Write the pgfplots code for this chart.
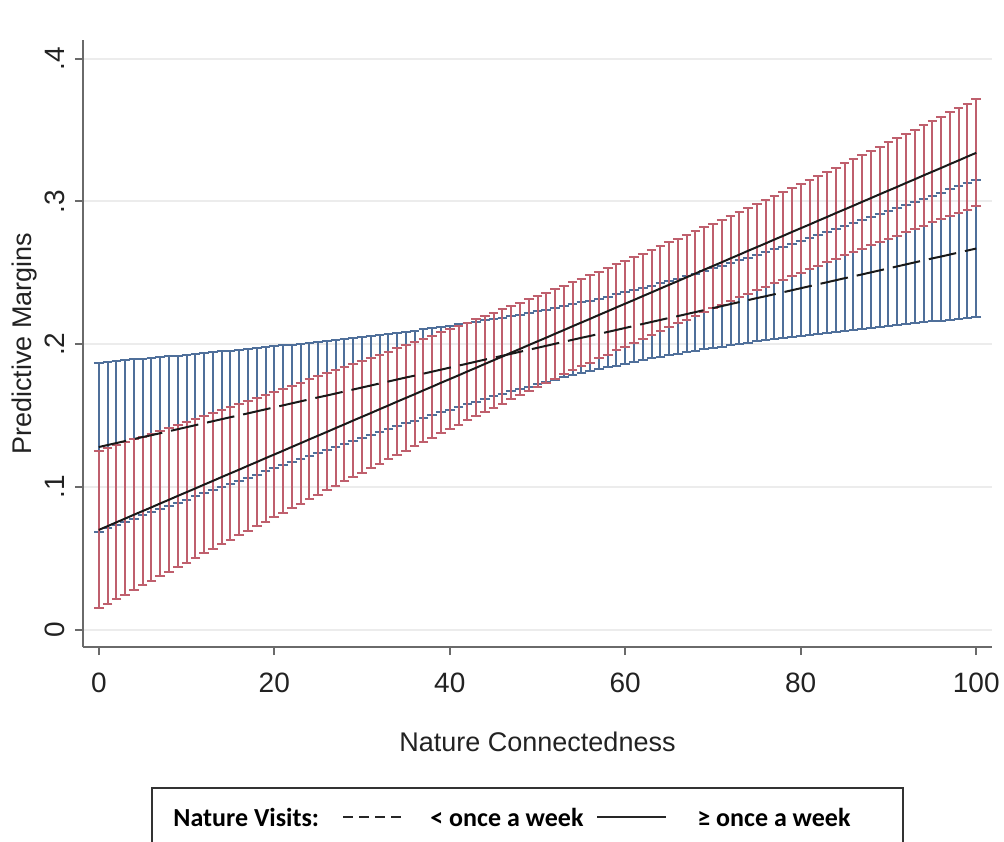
\documentclass[border=0pt]{standalone}
\usepackage{pgfplots}
\usepackage{pgfplotstable}
\pgfplotsset{compat=1.18}
\usepackage{fontspec}
\setmainfont{Liberation Sans}
\newfontfamily\legfont{Carlito}
\definecolor{cBlue}{HTML}{4F6F9A}
\definecolor{cRed}{HTML}{BF5F6D}
\definecolor{cAxis}{HTML}{6A6A6A}
\definecolor{cGrid}{HTML}{ECECEC}
\definecolor{cText}{HTML}{222222}

% < once a week: margin and half-width of the 95% CI
\pgfplotstableread{
x y e
0 .1280 .0592
1 .1294 .0583
2 .1308 .0575
3 .1322 .0566
4 .1336 .0558
5 .1350 .0549
6 .1363 .0541
7 .1377 .0533
8 .1391 .0524
9 .1405 .0516
10 .1419 .0507
11 .1433 .0499
12 .1447 .0491
13 .1461 .0483
14 .1475 .0475
15 .1489 .0467
16 .1502 .0459
17 .1516 .0451
18 .1530 .0443
19 .1544 .0435
20 .1558 .0427
21 .1572 .0420
22 .1586 .0412
23 .1600 .0404
24 .1614 .0397
25 .1628 .0390
26 .1641 .0382
27 .1655 .0375
28 .1669 .0368
29 .1683 .0361
30 .1697 .0354
31 .1711 .0348
32 .1725 .0341
33 .1739 .0335
34 .1753 .0328
35 .1767 .0322
36 .1780 .0316
37 .1794 .0310
38 .1808 .0305
39 .1822 .0299
40 .1836 .0294
41 .1850 .0289
42 .1864 .0284
43 .1878 .0280
44 .1892 .0276
45 .1906 .0272
46 .1919 .0268
47 .1933 .0264
48 .1947 .0261
49 .1961 .0258
50 .1975 .0256
51 .1989 .0254
52 .2003 .0252
53 .2017 .0250
54 .2031 .0249
55 .2045 .0249
56 .2058 .0248
57 .2072 .0248
58 .2086 .0248
59 .2100 .0249
60 .2114 .0250
61 .2128 .0251
62 .2142 .0253
63 .2156 .0255
64 .2170 .0258
65 .2184 .0260
66 .2197 .0263
67 .2211 .0267
68 .2225 .0270
69 .2239 .0274
70 .2253 .0278
71 .2267 .0283
72 .2281 .0288
73 .2295 .0292
74 .2309 .0298
75 .2323 .0303
76 .2336 .0308
77 .2350 .0314
78 .2364 .0320
79 .2378 .0326
80 .2392 .0332
81 .2406 .0339
82 .2420 .0345
83 .2434 .0352
84 .2448 .0359
85 .2462 .0366
86 .2475 .0373
87 .2489 .0380
88 .2503 .0387
89 .2517 .0394
90 .2531 .0402
91 .2545 .0409
92 .2559 .0417
93 .2573 .0425
94 .2587 .0432
95 .2601 .0440
96 .2614 .0448
97 .2628 .0456
98 .2642 .0464
99 .2656 .0472
100 .2670 .0480
}\lowvisits

% >= once a week
\pgfplotstableread{
x y e
0 .0700 .0550
1 .0726 .0544
2 .0753 .0538
3 .0779 .0533
4 .0806 .0527
5 .0832 .0521
6 .0858 .0515
7 .0885 .0510
8 .0911 .0504
9 .0938 .0499
10 .0964 .0493
11 .0990 .0488
12 .1017 .0482
13 .1043 .0477
14 .1070 .0471
15 .1096 .0466
16 .1122 .0460
17 .1149 .0455
18 .1175 .0450
19 .1202 .0445
20 .1228 .0440
21 .1254 .0434
22 .1281 .0429
23 .1307 .0424
24 .1334 .0420
25 .1360 .0415
26 .1386 .0410
27 .1413 .0405
28 .1439 .0400
29 .1466 .0396
30 .1492 .0391
31 .1518 .0387
32 .1545 .0382
33 .1571 .0378
34 .1598 .0374
35 .1624 .0369
36 .1650 .0365
37 .1677 .0361
38 .1703 .0357
39 .1730 .0354
40 .1756 .0350
41 .1782 .0346
42 .1809 .0343
43 .1835 .0339
44 .1862 .0336
45 .1888 .0333
46 .1914 .0330
47 .1941 .0327
48 .1967 .0324
49 .1994 .0321
50 .2020 .0318
51 .2046 .0316
52 .2073 .0314
53 .2099 .0311
54 .2126 .0309
55 .2152 .0307
56 .2178 .0306
57 .2205 .0304
58 .2231 .0303
59 .2258 .0301
60 .2284 .0300
61 .2310 .0299
62 .2337 .0298
63 .2363 .0298
64 .2390 .0297
65 .2416 .0297
66 .2442 .0296
67 .2469 .0296
68 .2495 .0296
69 .2522 .0297
70 .2548 .0297
71 .2574 .0298
72 .2601 .0299
73 .2627 .0299
74 .2654 .0301
75 .2680 .0302
76 .2706 .0303
77 .2733 .0305
78 .2759 .0306
79 .2786 .0308
80 .2812 .0310
81 .2838 .0312
82 .2865 .0315
83 .2891 .0317
84 .2918 .0319
85 .2944 .0322
86 .2970 .0325
87 .2997 .0328
88 .3023 .0331
89 .3050 .0334
90 .3076 .0337
91 .3102 .0341
92 .3129 .0344
93 .3155 .0348
94 .3182 .0351
95 .3208 .0355
96 .3234 .0359
97 .3261 .0363
98 .3287 .0367
99 .3314 .0371
100 .3340 .0375
}\highvisits

\begin{document}
\begin{tikzpicture}
\begin{axis}[
  scale only axis, width=454.5pt, height=303.5pt,
  xmin=-1.8, xmax=101.8, ymin=-0.012, ymax=0.413,
  axis x line*=bottom, axis y line*=left,
  axis line style={cAxis, line width=1pt},
  tick align=outside, major tick length=4pt,
  tick style={cAxis, line width=1pt},
  xtick={0,20,40,60,80,100}, xticklabels={0,20,40,60,80,100},
  ytick={0,0.1,0.2,0.3,0.4}, yticklabels={0,.1,.2,.3,.4},
  ymajorgrids, grid style={cGrid, line width=1pt},
  tick label style={font=\fontsize{14}{16}\selectfont, text=cText},
  xticklabel style={anchor=center, yshift=-14pt},
  yticklabel style={xshift=-10pt, rotate=90, anchor=center},
  xlabel={Nature Connectedness},
  ylabel={Predictive Margins},
  every axis x label/.style={at={(axis description cs:0.5,-0.1565)}, anchor=center,
    font=\fontsize{13.5}{16}\selectfont, text=cText},
  every axis y label/.style={at={(axis description cs:-0.0638,0.5)}, rotate=90, anchor=center,
    font=\fontsize{13.5}{16}\selectfont, text=cText},
]
% confidence intervals drawn as capped bars, no markers
\addplot[draw=none, mark=none,
  error bars/.cd, y dir=both, y explicit,
  error bar style={draw=cBlue, line width=1pt},
  error mark options={rotate=90, draw=cBlue, mark size=2.4pt, line width=1pt}]
  table[x=x, y=y, y error=e] {\lowvisits};
\addplot[draw=none, mark=none,
  error bars/.cd, y dir=both, y explicit,
  error bar style={draw=cRed, line width=1pt},
  error mark options={rotate=90, draw=cRed, mark size=2.4pt, line width=1pt}]
  table[x=x, y=y, y error=e] {\highvisits};
\addplot[black!90, mark=none, line width=1pt, dash pattern=on 14pt off 4.5pt] table[x=x, y=y] {\lowvisits};
\addplot[black!90, mark=none, line width=1pt] table[x=x, y=y] {\highvisits};
\end{axis}
% legend box, cut off at the foot of the picture as in the source
\draw[black!80, line width=1pt] (34.5pt,-100pt) -- (34.5pt,-70.5pt) -- (410pt,-70.5pt) -- (410pt,-100pt);
\node[anchor=west, inner sep=0pt, font=\legfont\bfseries\fontsize{13}{15}\selectfont, text=black] at (45pt,-85pt) {Nature Visits:};
\draw[black!85, line width=0.8pt, dash pattern=on 5pt off 3pt] (130pt,-85pt) -- (160pt,-85pt);
\node[anchor=west, inner sep=0pt, font=\legfont\bfseries\fontsize{13}{15}\selectfont, text=black] at (173.5pt,-85pt) {< once a week};
\draw[black!85, line width=1pt] (257pt,-85pt) -- (291.5pt,-85pt);
\node[anchor=west, inner sep=0pt, font=\legfont\bfseries\fontsize{13}{15}\selectfont, text=black] at (307pt,-85pt) {≥ once a week};
\pgfresetboundingbox
\path[use as bounding box] (-41.5pt,-97pt) rectangle (460.5pt,323.5pt);
\end{tikzpicture}
\end{document}
